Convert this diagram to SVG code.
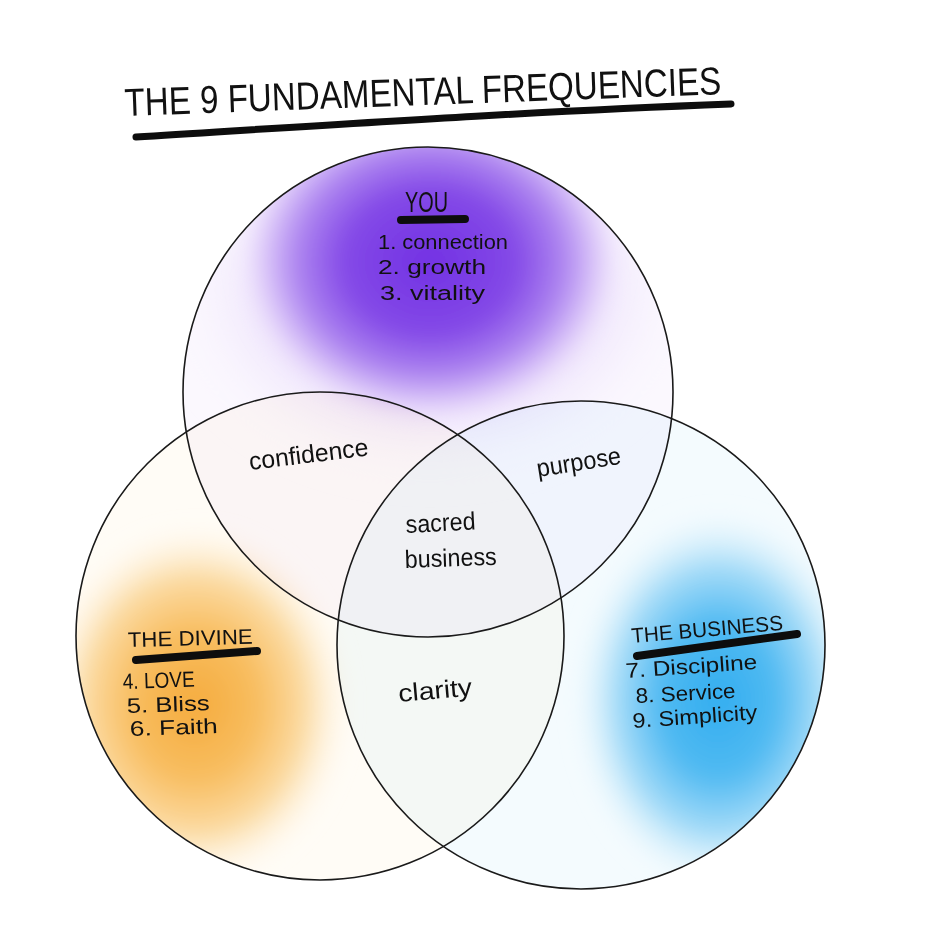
<svg xmlns="http://www.w3.org/2000/svg" width="928" height="926" viewBox="0 0 928 926">
<style>
.hand{font-family:"Liberation Sans","DejaVu Sans",sans-serif;fill:#111;}
.ring{fill:none;stroke:#1a1a1a;stroke-width:1.6;}
.bar{fill:none;stroke:#0d0d0d;stroke-linecap:round;}
</style>
<defs>
<clipPath id="cTop"><circle cx="428" cy="392" r="245"/></clipPath>
<clipPath id="cLeft"><circle cx="320" cy="636" r="244"/></clipPath>
<clipPath id="cRight"><circle cx="581" cy="645" r="244"/></clipPath>
<filter id="soft" x="-30%" y="-30%" width="160%" height="160%"><feGaussianBlur stdDeviation="10"/></filter>
<filter id="softer" x="-30%" y="-30%" width="160%" height="160%"><feGaussianBlur stdDeviation="20"/></filter>
<radialGradient id="gPurple" cx="0.5" cy="0.5" r="0.5">
<stop offset="0" stop-color="#7231e3"/>
<stop offset="0.45" stop-color="#8449e7"/>
<stop offset="0.7" stop-color="#ad84f0"/>
<stop offset="0.88" stop-color="#ddc9f9"/>
<stop offset="1" stop-color="#f0e6fd" stop-opacity="0"/>
</radialGradient>
<radialGradient id="gLav" cx="0.5" cy="0.5" r="0.5">
<stop offset="0" stop-color="#e4d3fa"/>
<stop offset="0.7" stop-color="#f0e7fc"/>
<stop offset="1" stop-color="#f8f3fe" stop-opacity="0"/>
</radialGradient>
<radialGradient id="gOrange" cx="0.5" cy="0.5" r="0.5">
<stop offset="0" stop-color="#f5ab3d"/>
<stop offset="0.4" stop-color="#f8bd5f"/>
<stop offset="0.7" stop-color="#fbdaa1"/>
<stop offset="1" stop-color="#fff4e2" stop-opacity="0"/>
</radialGradient>
<radialGradient id="gBlue" cx="0.5" cy="0.5" r="0.5">
<stop offset="0" stop-color="#32adf0"/>
<stop offset="0.4" stop-color="#50baf2"/>
<stop offset="0.7" stop-color="#a6dcf8"/>
<stop offset="1" stop-color="#e6f6fd" stop-opacity="0"/>
</radialGradient>
</defs>
<rect width="928" height="926" fill="#ffffff"/>

<g id="title">
<text class="hand" x="125" y="116" font-size="39" textLength="597" lengthAdjust="spacingAndGlyphs" transform="rotate(-2.1 125 116)">THE 9 FUNDAMENTAL FREQUENCIES</text>
<path class="bar" d="M136,137 C330,125 520,112 731,104" stroke-width="7"/>
</g>

<g id="washes">
<g clip-path="url(#cTop)" style="mix-blend-mode:multiply">
<circle cx="428" cy="392" r="245" fill="#fbf8fe"/>
<ellipse cx="430" cy="290" rx="250" ry="180" fill="url(#gLav)" filter="url(#softer)"/>
<ellipse cx="430" cy="262" rx="190" ry="160" fill="url(#gPurple)" filter="url(#soft)"/>
</g>
<g clip-path="url(#cLeft)" style="mix-blend-mode:multiply">
<circle cx="320" cy="636" r="244" fill="#fffcf6"/>
<ellipse cx="195" cy="705" rx="155" ry="180" fill="url(#gOrange)" filter="url(#soft)"/>
</g>
<g clip-path="url(#cRight)" style="mix-blend-mode:multiply">
<circle cx="581" cy="645" r="244" fill="#f4fbfe"/>
<ellipse cx="718" cy="700" rx="145" ry="190" fill="url(#gBlue)" filter="url(#soft)"/>
</g>
</g>

<g id="connectors"></g>

<g id="node-you">
<circle class="ring" cx="428" cy="392" r="245"/>
<text class="hand" x="405" y="212" font-size="30" textLength="43" lengthAdjust="spacingAndGlyphs">YOU</text>
<path class="bar" d="M401,220 L465,219" stroke-width="8"/>
<text class="hand" x="378" y="249" font-size="20" textLength="130" lengthAdjust="spacingAndGlyphs">1. connection</text>
<text class="hand" x="378" y="274" font-size="20" textLength="108" lengthAdjust="spacingAndGlyphs">2. growth</text>
<text class="hand" x="380" y="300" font-size="20" textLength="105" lengthAdjust="spacingAndGlyphs">3. vitality</text>
</g>

<g id="node-divine">
<circle class="ring" cx="320" cy="636" r="244"/>
<text class="hand" x="128" y="647" font-size="21" textLength="125" lengthAdjust="spacingAndGlyphs" transform="rotate(-1.5 128 647)">THE DIVINE</text>
<path class="bar" d="M136,660 L257,651" stroke-width="8"/>
<text class="hand" x="123" y="689" font-size="22" textLength="72" lengthAdjust="spacingAndGlyphs" transform="rotate(-2 123 689)">4. LOVE</text>
<text class="hand" x="127" y="713" font-size="21" textLength="83" lengthAdjust="spacingAndGlyphs" transform="rotate(-2 127 713)">5. Bliss</text>
<text class="hand" x="130" y="736" font-size="21" textLength="88" lengthAdjust="spacingAndGlyphs" transform="rotate(-2 130 736)">6. Faith</text>
</g>

<g id="node-business">
<circle class="ring" cx="581" cy="645" r="244"/>
<text class="hand" x="632" y="643" font-size="21" textLength="152" lengthAdjust="spacingAndGlyphs" transform="rotate(-5 632 643)">THE BUSINESS</text>
<path class="bar" d="M637,656 L797,634" stroke-width="8"/>
<text class="hand" x="626" y="678" font-size="21" textLength="132" lengthAdjust="spacingAndGlyphs" transform="rotate(-4 626 678)">7. Discipline</text>
<text class="hand" x="636" y="703" font-size="21" textLength="100" lengthAdjust="spacingAndGlyphs" transform="rotate(-3 636 703)">8. Service</text>
<text class="hand" x="633" y="728" font-size="21" textLength="125" lengthAdjust="spacingAndGlyphs" transform="rotate(-4 633 728)">9. Simplicity</text>
</g>

<g id="overlap-labels">
<text class="hand" x="250" y="470" font-size="25" textLength="120" lengthAdjust="spacingAndGlyphs" transform="rotate(-7 250 470)">confidence</text>
<text class="hand" x="538" y="477" font-size="25" textLength="85" lengthAdjust="spacingAndGlyphs" transform="rotate(-9 538 477)">purpose</text>
<text class="hand" x="406" y="533" font-size="25" textLength="70" lengthAdjust="spacingAndGlyphs" transform="rotate(-3 406 533)">sacred</text>
<text class="hand" x="405" y="568" font-size="25" textLength="92" lengthAdjust="spacingAndGlyphs" transform="rotate(-2 405 568)">business</text>
<text class="hand" x="399" y="702" font-size="25" textLength="74" lengthAdjust="spacingAndGlyphs" transform="rotate(-5 399 702)">clarity</text>
</g>
</svg>
